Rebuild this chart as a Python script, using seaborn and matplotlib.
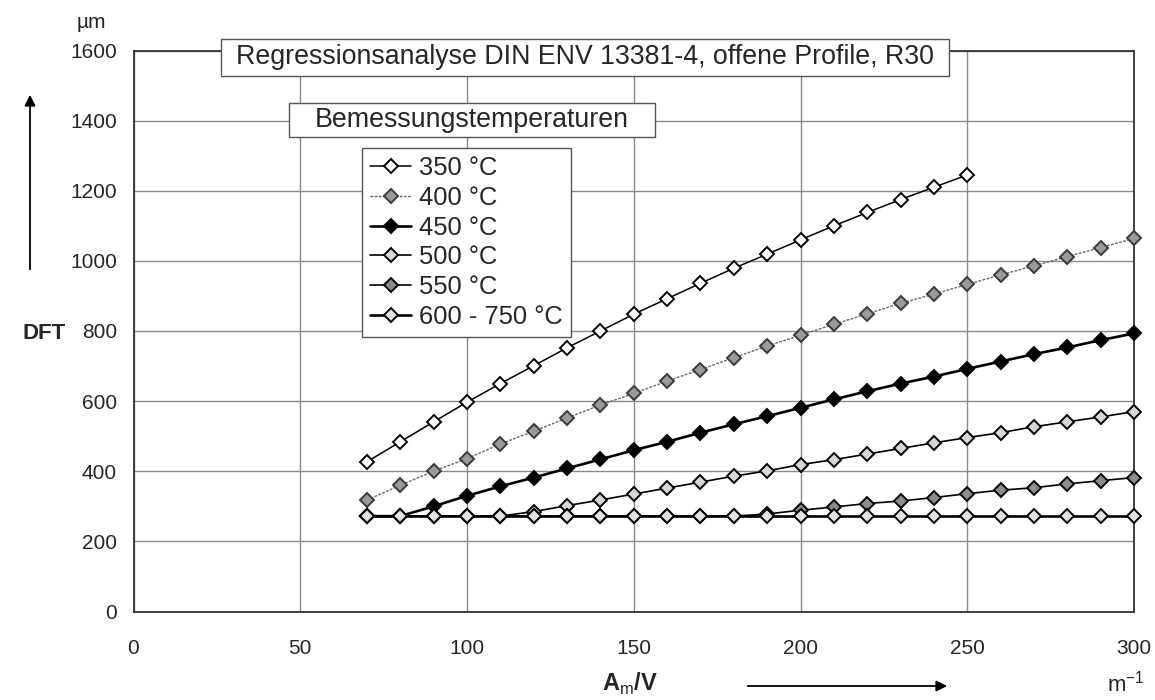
import matplotlib
matplotlib.use("Agg")
import matplotlib.pyplot as plt
from matplotlib.patches import Rectangle, FancyArrowPatch
import seaborn as sns
import pandas as pd

# ---- data ----
x_350 = [70, 80, 90, 100, 110, 120, 130, 140, 150, 160, 170, 180, 190, 200, 210, 220, 230, 240, 250]
y_350 = [427, 484, 541, 597, 650, 701, 752, 800, 848, 892, 936, 979, 1019, 1060, 1100, 1138, 1175, 1210, 1245]

x_all = [70, 80, 90, 100, 110, 120, 130, 140, 150, 160, 170, 180,
         190, 200, 210, 220, 230, 240, 250, 260, 270, 280, 290, 300]
y_400 = [318, 360, 400, 436, 478, 514, 552, 589, 622, 657, 690, 724,
         757, 788, 819, 849, 879, 905, 933, 960, 986, 1012, 1038, 1064]
y_450 = [272, 272, 300, 330, 357, 382, 408, 434, 460, 484, 510, 534,
         557, 581, 605, 628, 650, 670, 692, 713, 734, 753, 774, 793]
y_500 = [272, 272, 272, 272, 272, 285, 302, 318, 335, 352, 369, 386,
         401, 419, 433, 449, 465, 481, 496, 510, 527, 541, 555, 570]
y_550 = [272, 272, 272, 272, 272, 272, 272, 272, 272, 272, 272, 272,
         278, 289, 298, 308, 315, 325, 336, 346, 353, 364, 373, 382]
y_600 = [272, 272, 272, 272, 272, 272, 272, 272, 272, 272, 272, 272,
         272, 272, 272, 272, 272, 272, 272, 272, 272, 272, 272, 272]

labels = ["350 °C", "400 °C", "450 °C", "500 °C", "550 °C", "600 - 750 °C"]
series_x = [x_350, x_all, x_all, x_all, x_all, x_all]
series_y = [y_350, y_400, y_450, y_500, y_550, y_600]

x_ticks = [0, 50, 100, 150, 200, 250, 300]
y_ticks = [0, 200, 400, 600, 800, 1000, 1200, 1400, 1600]

title_text = "Regressionsanalyse DIN ENV 13381-4, offene Profile, R30"
legend_title = "Bemessungstemperaturen"

# ---- styles ----
styles = [
    dict(color="black", lw=1.1, mfc="white", mec="black", ls="-"),
    dict(color="#6a6a6a", lw=1.0, mfc="#9a9a9a", mec="#3a3a3a", ls=(0, (2, 1))),
    dict(color="black", lw=1.9, mfc="black", mec="black", ls="-"),
    dict(color="black", lw=1.2, mfc="#d6d6d6", mec="black", ls="-"),
    dict(color="black", lw=1.2, mfc="#8c8c8c", mec="black", ls="-"),
    dict(color="black", lw=1.9, mfc="#e2e2e2", mec="black", ls="-"),
]

sns.set_theme(style="white")
plt.rcParams["font.family"] = ["Liberation Sans", "DejaVu Sans"]
plt.rcParams["mathtext.fontset"] = "custom"
plt.rcParams["mathtext.rm"] = "Liberation Sans"
plt.rcParams["mathtext.bf"] = "Liberation Sans:bold"

W, H = 1155, 700
fig = plt.figure(figsize=(W / 100, H / 100), dpi=100)
fig.patch.set_facecolor("white")

def fx(px):
    return px / W

def fy(py):
    return 1 - py / H

ax = fig.add_axes([fx(133.5), fy(611.5), fx(1134) - fx(133.5), fy(50.5) - fy(611.5)])

for lab, xs, ys, st in zip(labels, series_x, series_y, styles):
    df = pd.DataFrame({"x": xs, "y": ys})
    sns.lineplot(data=df, x="x", y="y", ax=ax, color=st["color"], lw=st["lw"],
                 linestyle=st["ls"],
                 marker="D", markersize=6.8, markerfacecolor=st["mfc"],
                 markeredgecolor=st["mec"], markeredgewidth=1.4, label=lab,
                 clip_on=False, zorder=3)

ax.set_xlim(0, 300)
ax.set_ylim(0, 1600)
ax.set_xticks(x_ticks)
ax.set_yticks(y_ticks)
ax.set_xticklabels([str(v) for v in x_ticks], fontsize=15)
ax.set_yticklabels([str(v) for v in y_ticks], fontsize=15)
ax.tick_params(axis="x", length=0, pad=20)
ax.tick_params(axis="y", length=0, pad=12)
ax.grid(True, color="#8a8a8a", lw=1.0)
ax.set_axisbelow(True)
for sp in ax.spines.values():
    sp.set_color("#333333")
    sp.set_linewidth(1.3)
ax.set_xlabel("")
ax.set_ylabel("")

leg = ax.legend(loc="upper left", bbox_to_anchor=(fx(362), fy(148)),
                bbox_transform=fig.transFigure, borderaxespad=0,
                fontsize=18.4, frameon=True, fancybox=False, framealpha=1,
                edgecolor="#555555", handlelength=1.6, handletextpad=0.3,
                labelspacing=0.22, borderpad=0.33)
leg.get_frame().set_linewidth(1.0)
leg.set_zorder(10)

# boxed annotations
for (x0, y0, x1, y1, txt) in [(221, 39, 949, 76, title_text),
                              (289, 103, 655, 137, legend_title)]:
    r = Rectangle((fx(x0), fy(y1)), fx(x1) - fx(x0), fy(y0) - fy(y1),
                  transform=fig.transFigure, facecolor="white",
                  edgecolor="#555555", lw=1.0, zorder=20)
    fig.add_artist(r)
    fig.text(fx((x0 + x1) / 2), fy((y0 + y1) / 2), txt, ha="center", va="center",
             fontsize=19.3, zorder=21)

# axis labels and arrows
fig.text(fx(91), fy(23), "µm", ha="center", va="center", fontsize=15)
fig.text(fx(44), fy(333), "DFT", ha="center", va="center", fontsize=16, fontweight="bold")
fig.add_artist(FancyArrowPatch((fx(30), fy(272)), (fx(30), fy(92)),
                               transform=fig.transFigure, arrowstyle="-|>",
                               mutation_scale=16, color="black", lw=1.3))
fig.text(fx(630), fy(684), r"$\mathbf{A}_{\mathrm{m}}\mathbf{/V}$", ha="center",
         va="center", fontsize=17)
fig.add_artist(FancyArrowPatch((fx(745), fy(686)), (fx(950), fy(686)),
                               transform=fig.transFigure, arrowstyle="-|>",
                               mutation_scale=16, color="black", lw=1.3))
fig.text(fx(1126), fy(684), r"m$^{\mathrm{-1}}$", ha="center", va="center", fontsize=16)

fig.savefig("out.png", dpi=100, facecolor="white")
